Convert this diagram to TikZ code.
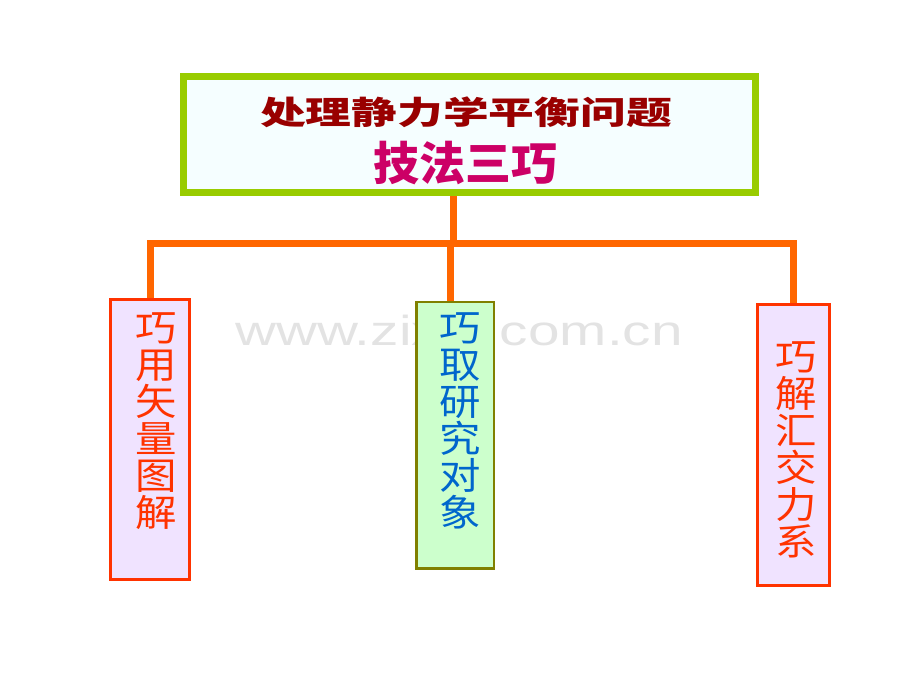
\documentclass[tikz,border=0pt]{standalone}
\usepackage{fontspec}
\usepackage{xcolor}
\usetikzlibrary{positioning}
\newfontfamily\cjk{Noto Sans CJK SC}
\newfontfamily\markfont{Liberation Sans}
\definecolor{titlegreen}{RGB}{153,204,0}
\definecolor{titlefill}{RGB}{245,254,255}
\definecolor{titlered}{RGB}{153,0,0}
\definecolor{titlepink}{RGB}{204,0,102}
\definecolor{linkorange}{RGB}{255,102,0}
\definecolor{boxred}{RGB}{255,51,0}
\definecolor{boxlilac}{RGB}{240,227,255}
\definecolor{boxgreen}{RGB}{204,255,204}
\definecolor{boxolive}{RGB}{128,128,0}
\definecolor{textblue}{RGB}{0,102,204}
\definecolor{markgray}{RGB}{227,227,227}
\pgfdeclarelayer{background}
\pgfsetlayers{background,main}

\begin{document}
\begin{tikzpicture}[x=1pt, y=-1pt,
  link/.style={line width=7pt, draw=linkorange},
  sidebox/.style={draw=boxred, line width=3pt, fill=boxlilac, inner sep=0pt},
  vtext/.style={align=center, inner sep=0pt, xscale=1.12, transform shape,
    font=\cjk\fontsize{37}{37}\selectfont}]
  \useasboundingbox (0,0) rectangle (920,690);

  % Draw watermark
  \node[text=markgray, font=\markfont\fontsize{42}{42}\selectfont, anchor=base,
    xscale=1.35, transform shape] (mark) at (459,345) {www.zixin.com.cn};

  % Draw title box
  \node[draw=titlegreen, line width=7pt, fill=titlefill, inner sep=0pt,
    minimum width=572pt, minimum height=116pt] (top) at (469,134.5) {};
  \node[text=titlered, font=\cjk\bfseries\fontsize{32}{32}\selectfont,
    xscale=1.43, transform shape] (title) at (466,112.5) {处理静力学平衡问题};
  \node[text=titlepink, font=\cjk\bfseries\fontsize{46}{46}\selectfont]
    (subtitle) at (465,163.5) {技法三巧};

  % Draw the three boxes
  \node[sidebox, minimum width=79pt, minimum height=280.5pt] (left) at (150,439.25) {};
  \node[sidebox, draw=boxolive, line width=2.5pt, fill=boxgreen,
    minimum width=77.5pt, minimum height=266.5pt] (mid) at (455,435) {};
  \node[sidebox, minimum width=72pt, minimum height=281pt] (right) at (793.5,445) {};

  % Box labels
  \node[vtext, text=boxred] (lefttext) at (156.5,421) {巧\\用\\矢\\量\\图\\解};
  \node[vtext, text=textblue] (midtext) at (460,421) {巧\\取\\研\\究\\对\\象};
  \node[vtext, text=boxred] (righttext) at (796,450) {巧\\解\\汇\\交\\力\\系};

  % Draw connectors
  \coordinate (hub) at (453,243.5);
  \begin{pgfonlayer}{background}
    \draw[link] (top.south -| hub) -- (hub);
    \draw[link] (left.north) |- (hub) -| (right.north);
    \draw[link] ([xshift=-4.5pt]mid.north) -- ([xshift=-4.5pt]mid.north |- hub);
  \end{pgfonlayer}
\end{tikzpicture}
\end{document}
